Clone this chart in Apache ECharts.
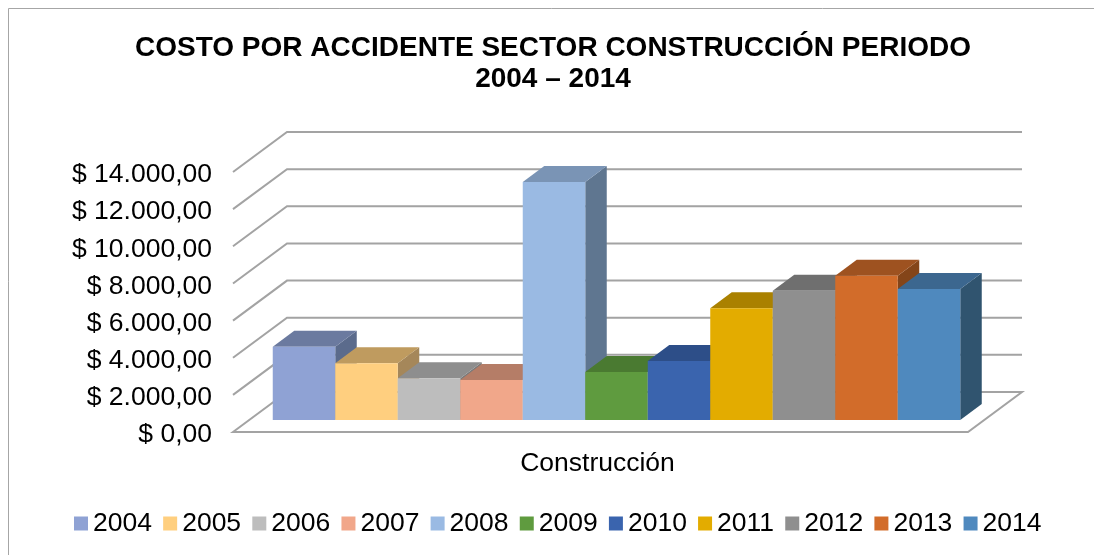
<!DOCTYPE html>
<html><head><meta charset="utf-8">
<style>html,body{margin:0;padding:0;background:#fff}#c{width:1094px;height:555px}</style>
<script src="https://cdn.jsdelivr.net/npm/echarts@6/dist/echarts.min.js"></script>
</head><body><div id="c"></div>
<script>
const categories = ['Construcción'];
const years = ['2004','2005','2006','2007','2008','2009','2010','2011','2012','2013','2014'];
const values = [3950,3050,2245,2155,12815,2585,3175,6015,6965,7770,7055];
const ticks = [0,2000,4000,6000,8000,10000,12000,14000];
const frontColors = ['#8FA2D4','#FFCF7F','#BDBDBD','#F1A78A','#9ABAE3','#5F9B3F','#3A64AE','#E3AC00','#8F8F8F','#D26C2A','#4F89BE'];
const topColors   = ['#6B7A9F','#BF9B5F','#8E8E8E','#B57D67','#7A94B5','#4A7A31','#2D4E88','#AA8100','#6F6F6F','#9E5220','#3C678F'];
const sideColors  = ['#5B6B8C','#A5875A','#7A7A7A','#9C6C59','#5F7690','#3C6428','#233E6C','#8D6C00','#5C5C5C','#844519','#30546F'];

const DEPTH_X = 54, DEPTH_Y = 40;
const BAR_FRONT_DX = 16, BAR_FRONT_DY = 12, BAR_DX = 21.5, BAR_DY = 16;
const BAR_SHARE = 62.5 / 735;
const LINE = '#A3A3A3';
const FONT = 'Liberation Sans';

function fmt(v){
  const s = String(v).replace(/\B(?=(\d{3})+$)/g,'.');
  return '$ ' + s + ',00';
}
function wall(params, api){
  const v = api.value(0);
  const c = api.coord([0, v]);
  const band = api.size([1,0])[0];
  const L = c[0]-band/2, R = c[0]+band/2, y = c[1];
  if (v === 0) {
    return {type:'polygon',shape:{points:[[L,y],[L+DEPTH_X,y-DEPTH_Y],[R+DEPTH_X,y-DEPTH_Y],[R,y]]},style:{fill:'#fff',stroke:LINE,lineWidth:2}};
  }
  return {type:'polyline',shape:{points:[[L,y],[L+DEPTH_X,y-DEPTH_Y],[R+DEPTH_X,y-DEPTH_Y]]},style:{stroke:LINE,lineWidth:2,fill:null}};
}
function bar(params, api){
  const i = params.seriesIndex - 1;
  const top = api.coord([0, api.value(1)]);
  const base = api.coord([0, 0]);
  const band = api.size([1,0])[0];
  const w = band*BAR_SHARE;
  const x0 = top[0] + BAR_FRONT_DX + (i-5.5)*w, x1 = x0+w;
  const yT = top[1]-BAR_FRONT_DY, yB = base[1]-BAR_FRONT_DY;
  return {type:'group',children:[
    {type:'polygon',shape:{points:[[x1,yT],[x1+BAR_DX,yT-BAR_DY],[x1+BAR_DX,yB-BAR_DY],[x1,yB]]},style:{fill:sideColors[i]}},
    {type:'polygon',shape:{points:[[x0,yT],[x0+BAR_DX,yT-BAR_DY],[x1+BAR_DX,yT-BAR_DY],[x1,yT]]},style:{fill:topColors[i]}},
    {type:'rect',shape:{x:x0,y:yT,width:w,height:yB-yT},style:{fill:frontColors[i]}}
  ]};
}
const series = [{
  type:'custom',name:'walls',silent:true,renderItem:wall,clip:false,z:1,
  encode:{y:0},data:ticks.map(t=>[t])
}].concat(years.map((y,i)=>({
  type:'custom',name:y,renderItem:bar,clip:false,z:2,
  itemStyle:{color:frontColors[i]},
  encode:{x:0,y:1},data:[[0,values[i]]]
})));
const chart = echarts.init(document.getElementById('c'),null,{renderer:'canvas'});
chart.setOption({
  animation:false,
  backgroundColor:'#fff',
  title:{text:'COSTO POR ACCIDENTE SECTOR CONSTRUCCIÓN PERIODO\n2004 – 2014',left:548,top:28,textAlign:'center',
    textStyle:{fontFamily:FONT,fontSize:28,fontWeight:'bold',color:'#000',lineHeight:31}},
  legend:{data:years,left:69,top:505,icon:'rect',itemWidth:14,itemHeight:14,itemGap:11.2,selectedMode:false,
    textStyle:{fontFamily:FONT,fontSize:26.5,color:'#000'}},
  grid:{left:233,right:126,top:172,height:260,containLabel:false},
  xAxis:{type:'category',data:categories,axisLine:{show:false},axisTick:{show:false},splitLine:{show:false},
    axisLabel:{margin:18,fontFamily:FONT,fontSize:26.5,color:'#000',padding:[0,6,0,0]}},
  yAxis:{type:'value',min:0,max:14000,interval:2000,axisLine:{show:false},axisTick:{show:false},splitLine:{show:false},
    axisLabel:{margin:21,fontFamily:FONT,fontSize:26.5,color:'#000',formatter:fmt,verticalAlign:'top',lineHeight:6}},
  graphic:[
    {type:'polyline',silent:true,shape:{points:[[8.5,555],[8.5,8.5],[1094,8.5]]},style:{stroke:'#A6A6A6',lineWidth:1,fill:null}}
  ],
  series
});
</script></body></html>
